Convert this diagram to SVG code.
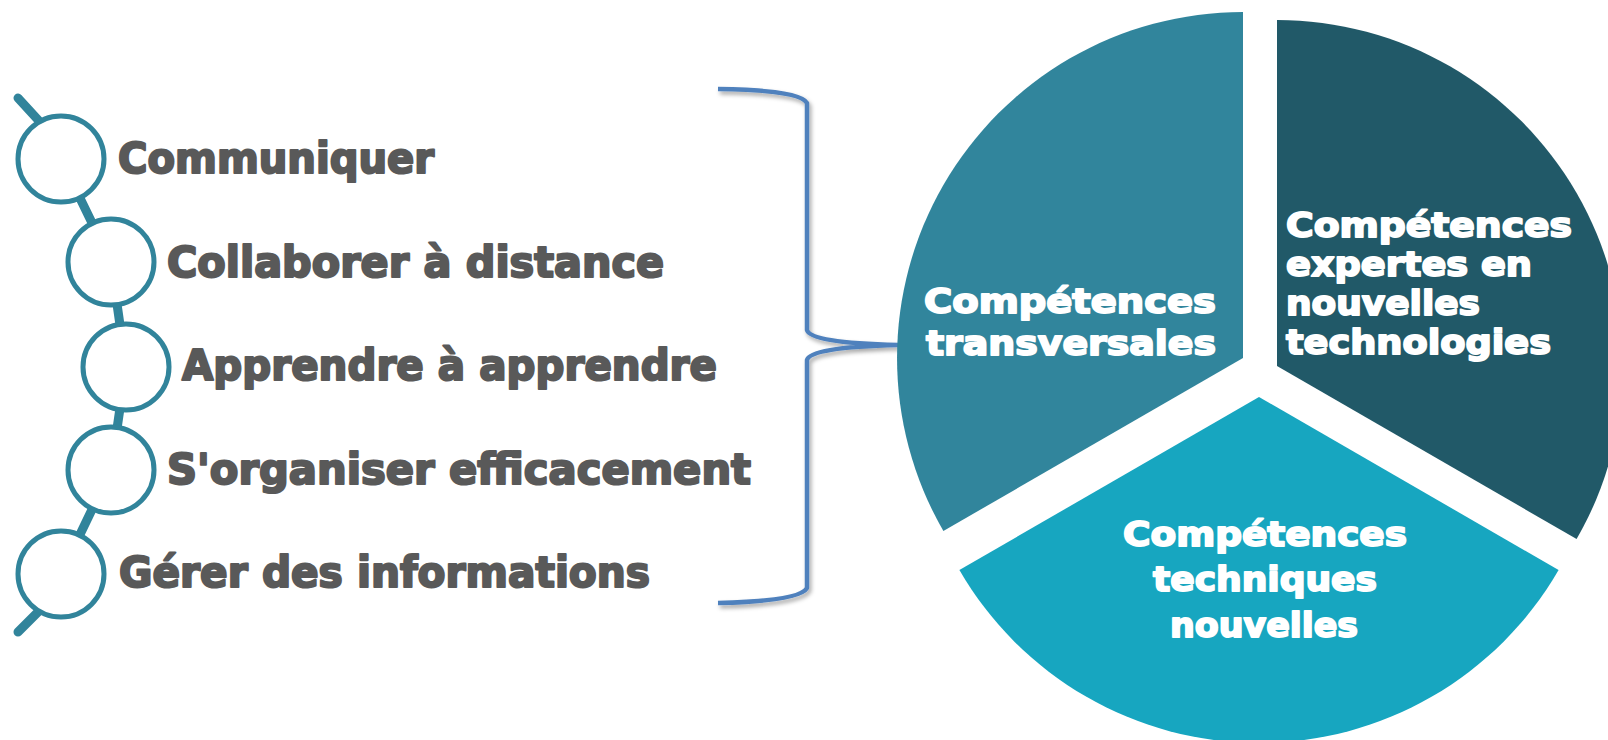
<svg xmlns="http://www.w3.org/2000/svg" width="1608" height="740" viewBox="0 0 1608 740">
  <defs>
    <filter id="shadow" x="-10%" y="-10%" width="130%" height="130%">
      <feDropShadow dx="2" dy="3" stdDeviation="2" flood-color="#000" flood-opacity="0.35"/>
    </filter>
    <style>
      .ring { fill: #FFFFFF; stroke: #31849B; stroke-width: 5; }
      .spine { fill: none; stroke: #31849B; stroke-width: 9; stroke-linecap: round; stroke-linejoin: round; }
      .item { font-family: "DejaVu Sans", "Liberation Sans", sans-serif; font-weight: bold; font-size: 42px; fill: #595959; stroke: #595959; stroke-width: 2.2; stroke-linejoin: round; }
      .pie { font-family: "DejaVu Sans", "Liberation Sans", sans-serif; font-weight: bold; font-size: 34px; fill: #FFFFFF; stroke: #FFFFFF; stroke-width: 1.9; stroke-linejoin: round; }
      .brace { fill: none; stroke: #4F81BD; stroke-width: 4.5; stroke-linecap: butt; stroke-linejoin: round; }
    </style>
  </defs>

  <g id="connectors">
    <path class="spine" d="M18,98 L40,122 M61,159 L111,262 L126,367 L111,470 L61,574 M40,610 L18,632"/>
    <path class="brace" filter="url(#shadow)" d="M718,89 Q800,90 807,103 L807,330 Q810,343 898,345 Q810,347 807,360 L807,588 Q800,601 718,603"/>
  </g>

  <g id="node-communiquer">
    <circle class="ring" cx="61" cy="159" r="43"/>
    <text class="item" x="118" y="173" textLength="316" lengthAdjust="spacingAndGlyphs">Communiquer</text>
  </g>
  <g id="node-collaborer">
    <circle class="ring" cx="111" cy="262" r="43"/>
    <text class="item" x="167" y="277" textLength="497" lengthAdjust="spacingAndGlyphs">Collaborer à distance</text>
  </g>
  <g id="node-apprendre">
    <circle class="ring" cx="126" cy="367" r="43"/>
    <text class="item" x="182" y="380" textLength="535" lengthAdjust="spacingAndGlyphs">Apprendre à apprendre</text>
  </g>
  <g id="node-organiser">
    <circle class="ring" cx="111" cy="470" r="43"/>
    <text class="item" x="167" y="484" textLength="584" lengthAdjust="spacingAndGlyphs">S'organiser efficacement</text>
  </g>
  <g id="node-gerer">
    <circle class="ring" cx="61" cy="574" r="43"/>
    <text class="item" x="119" y="587" textLength="531" lengthAdjust="spacingAndGlyphs">Gérer des informations</text>
  </g>

  <g id="slice-transversales">
    <path d="M1243,358 L1243,12 A346,346 0 0 0 943.4,531 Z" fill="#31859C"/>
    <text class="pie" x="924" y="313" textLength="292" lengthAdjust="spacingAndGlyphs">Compétences</text>
    <text class="pie" x="926" y="355" textLength="290" lengthAdjust="spacingAndGlyphs">transversales</text>
  </g>

  <g id="slice-expertes">
    <path d="M1277,366 L1277,20 A346,346 0 0 1 1576.6,539 Z" fill="#215968"/>
    <text class="pie" x="1286" y="237" textLength="286" lengthAdjust="spacingAndGlyphs">Compétences</text>
    <text class="pie" x="1286" y="276" textLength="246" lengthAdjust="spacingAndGlyphs">expertes en</text>
    <text class="pie" x="1286" y="315" textLength="194" lengthAdjust="spacingAndGlyphs">nouvelles</text>
    <text class="pie" x="1286" y="354" textLength="265" lengthAdjust="spacingAndGlyphs">technologies</text>
  </g>

  <g id="slice-techniques">
    <path d="M1259,397 L959.4,570 A346,346 0 0 0 1558.6,570 Z" fill="#17A6C0"/>
    <text class="pie" x="1123" y="546" textLength="284" lengthAdjust="spacingAndGlyphs">Compétences</text>
    <text class="pie" x="1153" y="591" textLength="224" lengthAdjust="spacingAndGlyphs">techniques</text>
    <text class="pie" x="1170" y="637" textLength="188" lengthAdjust="spacingAndGlyphs">nouvelles</text>
  </g>
</svg>
